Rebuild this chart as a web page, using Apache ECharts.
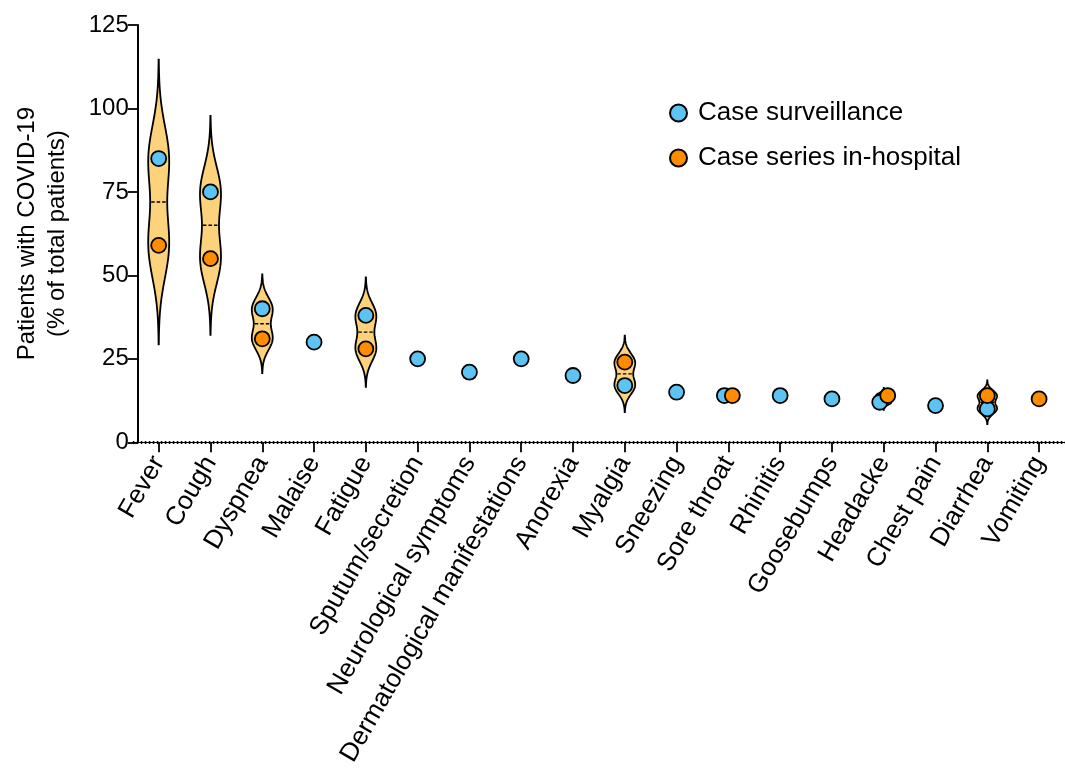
<!DOCTYPE html>
<html>
<head>
<meta charset="utf-8">
<script src="https://cdn.jsdelivr.net/npm/echarts@6/dist/echarts.min.js"></script>
<style>
  html, body { margin: 0; padding: 0; background: #fff; }
  #symptomsChart { width: 1065px; height: 769px; }
</style>
</head>
<body>
<div id="symptomsChart"></div>
<script>
const symptomsChart = echarts.init(document.getElementById('symptomsChart'));

const categories = ['Fever', 'Cough', 'Dyspnea', 'Malaise', 'Fatigue', 'Sputum/secretion',
    'Neurological symptoms', 'Dermatological manifestations', 'Anorexia', 'Myalgia', 'Sneezing',
    'Sore throat', 'Rhinitis', 'Goosebumps', 'Headacke', 'Chest pain', 'Diarrhea', 'Vomiting'];
const surveillance = [85, 75, 40, 30, 38, 25, 21, 25, 20, 17, 15, 14, 14, 13, 12, 11, 10, null];
const inHospital = [59, 55, 31, null, 28, null, null, null, null, 24, null, 14, null, null, 14, null, 14, 13];
const yTicks = [0, 25, 50, 75, 100, 125];

const FONT = "'Liberation Sans', Arial, sans-serif";

// points that almost overlap get spread sideways, like the original plot does
function pointData(values, other, side) {
    return values.map((v, i) => {
        if (v == null) return null;
        let item = { value: [i, v] };
        if (other[i] != null && Math.abs(other[i] - v) < 3) {
            item.symbolOffset = [side * 4, 0];
        }
        return item;
    });
}

// violins: kernel density of the two values of a category
function violinData() {
    let rows = [];
    for (let i = 0; i < categories.length; i++) {
        let a = surveillance[i], b = inHospital[i];
        if (a != null && b != null && a !== b) rows.push([i, a, b]);
    }
    return rows;
}

function renderViolin(params, api) {
    let idx = api.value(0);
    let a = api.value(1), b = api.value(2);
    let d = Math.abs(a - b);
    let sigma = 0.38 * d;
    let lo = Math.min(a, b) - 3 * sigma, hi = Math.max(a, b) + 3 * sigma;
    let maxHalf = 10.5 * (1 - Math.exp(-d / 1.5));
    let dens = (y) => Math.exp(-Math.pow(y - a, 2) / (2 * sigma * sigma)) +
                      Math.exp(-Math.pow(y - b, 2) / (2 * sigma * sigma));
    let steps = 100, ys = [], fmax = 0;
    for (let k = 0; k <= steps; k++) {
        let y = lo + (hi - lo) * k / steps;
        let f = dens(y);
        ys.push([y, f]);
        if (f > fmax) fmax = f;
    }
    let right = [], left = [];
    ys.forEach(([y, f]) => {
        let p = api.coord([idx, y]);
        let w = maxHalf * f / fmax;
        right.push([p[0] + w, p[1]]);
        left.unshift([p[0] - w, p[1]]);
    });
    let med = (a + b) / 2;
    let pm = api.coord([idx, med]);
    let wm = maxHalf * dens(med) / fmax;
    return {
        type: 'group',
        children: [
            {
                type: 'polygon',
                shape: { points: right.concat(left) },
                style: { fill: '#FDD27C', stroke: '#000', lineWidth: 1.8 }
            },
            {
                type: 'line',
                shape: { x1: pm[0] - wm + 1, y1: pm[1], x2: pm[0] + wm - 1, y2: pm[1] },
                style: { stroke: '#000', lineWidth: 1.4, lineDash: [3.5, 2] }
            }
        ]
    };
}

function defineSymptomsOption() {
    let option = {
        animation: false,
        textStyle: { fontFamily: FONT, color: '#000' },
        grid: { left: 132.8, top: 25, width: 944.5, height: 419 },
        legend: {
            orient: 'vertical',
            left: 664,
            top: 95,
            itemGap: 19,
            itemWidth: 17,
            itemHeight: 17,
            textStyle: { fontFamily: FONT, fontSize: 26, color: '#000', padding: [0, 0, 0, 6] },
            data: [
                { name: 'Case surveillance', icon: 'circle' },
                { name: 'Case series in-hospital', icon: 'circle' }
            ]
        },
        xAxis: {
            type: 'category',
            data: categories,
            boundaryGap: true,
            axisLine: { show: true, lineStyle: { color: '#000', width: 1 } },
            axisTick: { show: true, alignWithLabel: true, length: 10, lineStyle: { color: '#000', width: 1.8 } },
            axisLabel: {
                interval: 0,
                rotate: 60,
                margin: 16,
                fontSize: 26,
                color: '#000',
                fontFamily: FONT
            },
            splitLine: { show: false }
        },
        yAxis: {
            type: 'value',
            min: yTicks[0],
            max: yTicks[yTicks.length - 1],
            interval: 25,
            offset: -5,
            name: 'Patients with COVID-19\n(% of total patients)',
            nameLocation: 'middle',
            nameGap: 65,
            nameTextStyle: { fontSize: 24, color: '#000', fontFamily: FONT, lineHeight: 30 },
            axisLine: { show: true, lineStyle: { color: '#000', width: 2 } },
            axisTick: { show: true, length: 10, lineStyle: { color: '#000', width: 1.8 } },
            axisLabel: { fontSize: 24, color: '#000', margin: 9, fontFamily: FONT },
            splitLine: { show: false }
        },
        series: [
            {
                name: 'violin',
                type: 'custom',
                renderItem: renderViolin,
                encode: { x: 0, y: [1, 2] },
                data: violinData(),
                z: 1,
                silent: true
            },
            {
                name: 'Case surveillance',
                type: 'scatter',
                symbol: 'circle',
                symbolSize: 15,
                itemStyle: { color: '#5CC3F2', borderColor: '#000', borderWidth: 1.8, opacity: 1 },
                data: pointData(surveillance, inHospital, -1),
                z: 3,
                markLine: {
                    silent: true,
                    symbol: 'none',
                    label: { show: false },
                    lineStyle: { color: '#000', width: 3, type: [1.5, 2.5] },
                    data: [{ yAxis: 0 }]
                }
            },
            {
                name: 'Case series in-hospital',
                type: 'scatter',
                symbol: 'circle',
                symbolSize: 15,
                itemStyle: { color: '#FF8C00', borderColor: '#000', borderWidth: 1.8, opacity: 1 },
                data: pointData(inHospital, surveillance, 1),
                z: 4
            }
        ]
    };
    return option;
}

symptomsChart.setOption(defineSymptomsOption());
</script>
</body>
</html>
